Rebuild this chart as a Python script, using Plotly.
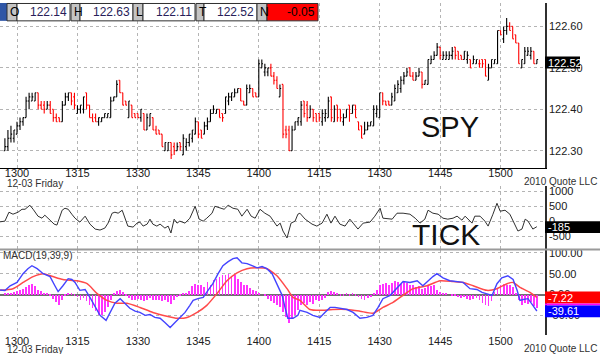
import plotly.graph_objects as go

# ---------------- DATA ----------------
BASE = 122.00            # SPY price base; bar arrays hold cents above it
BAR_START = -3.0         # minutes from 13:00 of first bar
BAR_LEN = 0.75           # minutes per bar

open_c = [30,31,33,33,34,36,37,38,42,42,42,44,41,41,40,41,40,38,38,37,
          41,43,44,43,39,40,40,44,41,38,38,37,37,38,38,38,42,43,47,44,
          42,38,41,39,39,38,39,35,36,38,35,35,34,30,30,32,31,30,32,29,
          31,32,33,34,37,35,34,36,37,39,39,40,39,39,42,43,43,44,45,42,
          41,44,45,44,43,50,49,49,50,48,47,43,46,35,35,30,35,37,37,42,
          41,38,40,39,39,37,38,38,43,37,41,40,37,38,41,39,41,37,36,34,
          35,36,36,39,38,44,42,42,41,42,44,45,47,48,50,48,47,48,49,46,
          46,51,52,53,55,52,52,52,53,55,54,53,52,52,52,51,51,51,52,52,
          47,50,51,51,59,57,59,60,60,58,56,50,51,53,53,54,51]
high_c = [33,35,36,35,37,38,38,43,44,44,44,44,42,42,42,42,40,39,38,42,
          44,44,44,44,41,41,43,44,41,39,39,38,38,39,39,43,43,47,47,44,
          42,42,41,39,39,40,39,39,39,38,36,35,34,32,32,32,32,32,32,34,
          33,34,35,38,37,35,37,38,40,41,40,40,39,43,44,44,45,45,45,42,
          46,46,45,44,52,52,51,50,51,49,48,46,46,36,36,36,37,38,42,42,
          42,41,40,39,39,40,40,43,43,41,41,40,39,40,41,41,41,37,36,37,
          37,37,41,41,44,44,42,42,44,46,47,48,49,50,50,49,49,50,49,47,
          52,53,54,56,55,54,54,54,55,55,54,53,54,54,52,53,52,52,52,52,
          51,52,52,59,59,60,62,61,60,58,56,52,55,55,55,54,52]
low_c  = [30,30,32,32,34,35,36,38,40,42,42,40,40,39,40,39,37,37,37,37,
          41,42,41,40,39,39,39,40,38,37,37,36,37,38,38,38,42,43,44,41,
          41,38,38,38,38,37,35,35,36,35,34,34,31,30,30,28,29,30,30,29,
          30,31,32,34,33,33,34,35,37,39,39,38,37,39,41,42,43,44,42,41,
          41,44,43,43,43,50,48,48,48,46,45,43,33,33,30,30,35,36,36,38,
          37,38,37,37,37,36,37,38,37,37,37,37,36,38,37,39,38,35,33,34,
          35,36,36,38,38,41,41,41,41,42,44,44,46,48,48,47,47,48,45,46,
          46,51,52,53,52,52,52,52,52,52,52,52,52,51,50,51,51,50,50,48,
          47,50,51,51,58,56,58,59,57,56,51,50,51,53,52,51,51]
close_c = [31,33,34,35,36,37,38,42,43,43,44,41,40,40,41,39,38,37,37,41,
           43,44,42,41,40,41,43,41,38,37,37,38,38,39,39,42,43,46,44,41,
           41,42,38,38,38,40,35,38,39,35,34,34,31,32,32,29,30,31,31,33,
           32,34,35,37,34,33,36,37,39,40,40,38,38,43,43,44,44,45,42,41,
           45,45,43,43,51,51,50,50,48,47,45,45,34,34,30,35,37,38,41,39,
           38,40,38,37,38,39,39,42,38,40,38,38,38,40,39,41,38,35,33,35,
           36,37,40,40,44,42,41,41,43,45,46,47,48,49,48,47,48,49,46,47,
           52,52,53,55,53,53,53,53,54,53,52,52,54,53,50,52,52,51,51,48,
           50,52,52,59,58,59,60,59,57,56,51,52,54,54,54,51,52]

# NYSE TICK (minutes from 13:00, value)
tick_t = [-4.2,-3.0,-2.0,-1.0,0.25,1.24,2.0,3.2,4.0,5.2,6.2,6.9,8.2,9.2,9.9,11.2,11.9,12.7,
          13.6,14.4,15.6,16.9,18.1,19.4,20.6,21.8,22.6,23.6,24.3,25.1,26.1,26.8,27.5,28.8,
          29.8,30.5,31.3,32.3,33.0,33.7,34.7,35.5,36.7,37.5,38.2,39.0,39.7,40.4,41.7,42.9,
          44.2,45.2,46.2,47.1,48.4,49.1,50.4,51.4,52.4,53.6,54.8,55.8,57.1,58.1,59.1,60.3,
          61.5,62.8,64.5,65.3,66.0,67.0,68.0,69.0,69.7,70.2,71.5,73.2,74.4,75.7,76.9,77.9,
          78.9,80.1,81.4,82.6,83.4,84.6,85.9,87.6,88.8,90.1,90.8,92.1,93.1,94.3,95.8,97.5,
          98.8,100.0,101.2,102.0,103.2,104.5,105.7,106.9,108.2,109.2,110.4,111.2,111.9,
          112.9,113.6,114.9,116.1,116.9,118.1,119.1,119.9,121.1,122.3,123.1,124.3,125.3,
          126.1,126.8,128.0,129.0]
tick_v = [-23,0,298,232,298,397,397,530,397,166,99,199,33,-99,-132,364,430,397,
          232,99,-33,166,-99,-265,-298,-232,-66,265,298,265,364,66,-166,-199,
          -66,-33,-166,-99,66,-99,-166,-99,-232,-166,-397,66,-66,0,-66,99,
          497,66,0,99,265,497,430,397,530,430,397,166,397,166,99,397,
          265,166,-166,-66,-331,-563,-66,0,232,265,66,-99,-166,-66,232,-66,
          166,-99,-166,66,-66,-265,-66,-33,166,430,99,66,66,265,265,232,
          99,-66,66,364,265,232,99,66,99,166,33,166,66,
          -66,166,166,0,-166,232,596,331,364,232,0,-331,-265,
          66,0,-265,-185]

# MACD(19,39,9): MACD line, signal line, histogram (one per bar)
macd_t = [-4.2,-3.0,-1.7,0.0,1.5,2.7,3.7,5.0,6.5,8.2,9.4,10.2,11.4,12.7,13.6,14.4,15.6,
          16.9,18.1,19.4,20.6,22.1,23.1,24.3,25.6,26.8,28.0,29.3,30.5,31.8,33.0,34.2,35.5,
          36.7,38.0,39.2,40.4,41.7,42.9,43.7,44.9,46.2,47.4,48.6,49.9,51.1,52.4,53.6,54.6,
          55.8,57.1,58.3,59.6,60.8,62.0,63.3,64.5,65.8,66.5,67.2,68.5,69.7,70.2,72.0,73.4,
          75.2,76.4,77.7,78.9,80.1,81.9,83.4,85.1,86.8,88.3,89.6,90.8,92.6,94.3,95.8,97.5,
          99.3,100.7,102.0,103.2,104.2,105.7,107.4,109.2,110.7,112.4,114.1,115.4,116.6,
          117.9,119.1,120.3,121.8,123.1,124.1,124.8,125.6,126.8,128.0,129.0]
macd_v = [11,9.5,21,29,50,62,69,62,50,43,21,7,21,38,36,29,10,
          12,-7,-31,-50,-62,-43,-21,-10,-21,-33,-40,-43,-50,-48,-55,-57,
          -67,-79,-67,-55,-43,-26,-14,-10,-7,10,26,50,69,79,86,88,
          76,74,69,64,67,62,50,26,-2,-31,-57,-57,-50,-38,-43,-50,
          -55,-43,-31,-31,-33,-36,-43,-57,-55,-50,-31,-10,-2,17,31,29,
          33,21,33,43,50,40,33,31,29,14,12,5,2,
          -2,26,40,45,36,10,-14,-12,-10,-26,-39.61]
sig_t = [-4.2,-1.0,1.5,4.0,6.5,8.9,11.4,14.9,17.4,19.9,22.3,24.8,27.3,30.5,33.7,37.2,39.7,
         42.2,44.7,47.1,49.6,52.1,54.6,57.1,59.6,62.0,64.5,67.0,68.5,70.2,72.7,75.2,78.4,
         81.9,85.1,88.3,90.8,93.3,95.8,98.3,101.7,105.0,108.2,110.7,113.2,116.6,119.1,
         121.6,123.1,124.8,127.3,129.0]
sig_v = [10,14,29,43,50,43,36,33,26,2,-14,-21,-21,-31,-43,-52,-57,
         -55,-43,-26,2,33,52,62,64,62,45,14,-7,-14,-36,-38,-36,
         -36,-40,-45,-31,-19,-2,14,21,33,31,29,21,10,14,
         26,29,17,5,-7.22]
hist_v = [2,3,5,6,8,10,14,18,22,26,20,12,8,5,2,-4,-10,-18,-24,-14,
          -3,3,4,-2,-6,-12,-8,-16,-24,-32,-40,-48,-50,-42,-30,-14,2,8,10,6,
          -4,-8,-12,-14,-10,-12,-16,-12,-8,-12,-14,-12,-16,-14,-18,-22,-12,-6,-3,2,
          4,8,20,26,22,24,18,30,24,34,38,42,46,48,50,44,46,38,30,22,
          22,16,12,8,2,0,-4,-10,-16,-20,-26,-30,-42,-54,-68,-58,-48,-36,-26,-20,
          -24,-18,-22,-14,-16,-12,-8,6,8,6,2,-4,-2,3,-3,2,-4,-6,-10,-12,
          -8,-6,4,12,22,26,28,24,28,32,30,26,30,28,22,24,18,20,14,16,
          22,20,24,12,6,4,2,0,-4,-2,-6,-8,-6,-10,-12,-10,-8,-14,-20,-24,
          -28,-16,6,16,22,26,24,22,18,4,-12,-24,-20,-22,-18,-28,-32]

x_tickvals = [0, 15, 30, 45, 60, 75, 90, 105, 120]
x_ticktext = ["1300", "1315", "1330", "1345", "1400", "1415", "1430", "1445", "1500"]
price_ticks = [122.30, 122.40, 122.50, 122.60]
tick_ticks = [-500, 0, 500, 1000]
macd_ticks = [-50, 0, 50, 100]

header = [("O", "122.14"), ("H", "122.63"), ("L", "122.11"), ("T", "122.52")]
net_change = "-0.05"
last_price = "122.52"
last_tick = "-185"
last_signal = "-7.22"
last_macd = "-39.61"

# ---------------- FIGURE ----------------
W, H = 600, 354
PW = 545  # plot width (px)
FONT = "Liberation Sans, Arial, sans-serif"

def px(x):
    return x / PW

def py(y):
    return 1 - y / H

n = len(open_c)
t = [BAR_START + BAR_LEN * i for i in range(n)]
O = [BASE + v / 100 for v in open_c]
Hh = [BASE + v / 100 for v in high_c]
L = [BASE + v / 100 for v in low_c]
C = [BASE + v / 100 for v in close_c]

fig = go.Figure()
fig.add_trace(go.Ohlc(x=t, open=O, high=Hh, low=L, close=C, xaxis="x", yaxis="y",
                      increasing=dict(line=dict(color="#000000", width=1.1)),
                      decreasing=dict(line=dict(color="#ff0000", width=1.1)),
                      tickwidth=0.4, hoverinfo="skip", showlegend=False))
fig.add_trace(go.Scatter(x=tick_t, y=tick_v, xaxis="x2", yaxis="y2", mode="lines",
                         line=dict(color="#303030", width=1), hoverinfo="skip", showlegend=False))
fig.add_trace(go.Bar(x=t, y=hist_v, xaxis="x3", yaxis="y3", width=0.2,
                     marker=dict(color="#ff33ff", line=dict(width=0)),
                     hoverinfo="skip", showlegend=False))
fig.add_trace(go.Scatter(x=sig_t, y=sig_v, xaxis="x3", yaxis="y3", mode="lines",
                         line=dict(color="#ff4a4a", width=1.5, shape="spline", smoothing=0.6),
                         hoverinfo="skip", showlegend=False))
fig.add_trace(go.Scatter(x=macd_t, y=macd_v, xaxis="x3", yaxis="y3", mode="lines",
                         line=dict(color="#4444ff", width=1.4),
                         hoverinfo="skip", showlegend=False))

grid = dict(showgrid=True, gridcolor="#b4b4b4", griddash="dot", gridwidth=1, zeroline=False)
xr = [-17 / 4.03, (PW - 17) / 4.03]
xcommon = dict(range=xr, tickvals=x_tickvals, ticktext=x_ticktext, ticks="",
               tickfont=dict(size=11, color="#202020", family=FONT), **grid)

fig.update_layout(
    width=W, height=H, margin=dict(l=0, r=W - PW, t=0, b=0),
    paper_bgcolor="white", plot_bgcolor="white", bargap=0,
    font=dict(family=FONT, size=11, color="#202020"),
    xaxis=dict(domain=[0, 1], anchor="y", showline=True, linecolor="#000", linewidth=1,
               rangeslider=dict(visible=False), showticklabels=True, ticklabelstandoff=-5, **xcommon),
    xaxis2=dict(domain=[0, 1], anchor="y2", matches="x", showticklabels=False, showline=False, **xcommon),
    xaxis3=dict(domain=[0, 1], anchor="y3", matches="x", showticklabels=True, showline=False,
                ticklabelstandoff=-2, **xcommon),
    yaxis=dict(domain=[py(166), 1], side="right", range=[122.30 - 17 / 418, 122.30 + 149 / 418],
               tickvals=price_ticks, ticktext=["%.2f" % v for v in price_ticks], ticks="",
               showline=True, linecolor="#303030", linewidth=1.5, **grid),
    yaxis2=dict(domain=[py(248), py(185)], side="right", range=[(220 - 248) / 0.0302, (220 - 185) / 0.0302],
                tickvals=tick_ticks, ticktext=[str(v) for v in tick_ticks], ticks="",
                showline=True, linecolor="#303030", linewidth=1.5, **grid),
    yaxis3=dict(domain=[py(335), py(249)], side="right", range=[(294 - 335) * 2.38, (294 - 249) * 2.38],
                tickvals=macd_ticks, ticktext=["%.2f" % v for v in macd_ticks], ticks="",
                showline=True, linecolor="#303030", linewidth=1.5,
                showgrid=True, gridcolor="#b4b4b4", griddash="dot", gridwidth=1,
                zeroline=True, zerolinecolor="#707070", zerolinewidth=2),
)

shapes = []
annos = []

def rect(x0, x1, y0, y1, fill, line=None):
    shapes.append(dict(type="rect", xref="paper", yref="paper", x0=px(x0), x1=px(x1),
                       y0=py(y1), y1=py(y0), fillcolor=fill, layer="above",
                       line=dict(width=1 if line else 0, color=line or fill)))

def text(x, y, s, size=11, color="#202020", xanchor="left"):
    annos.append(dict(xref="paper", yref="paper", x=px(x), y=py(y), text=s, showarrow=False,
                      xanchor=xanchor, yanchor="middle", font=dict(size=size, color=color, family=FONT),
                      borderpad=0))

# panel separator between TICK and MACD
shapes.append(dict(type="line", xref="paper", yref="paper", x0=0, x1=W / PW, y0=py(248.5), y1=py(248.5),
                   line=dict(color="#9a9a9a", width=2), layer="above"))

# header
rect(0, 7, 0, 18, "#2f56a6")
cells = [(7, 17, 70), (71, 80, 133), (133, 143, 195), (196, 204, 257)]
for (lab, val), (a, b, c) in zip(header, cells):
    rect(a, b, 0.5, 18, "#c4c4c4", "#303030")
    rect(b, c, 0.5, 18, "#ffffff", "#303030")
    text(a + 1.5, 9.5, lab, size=12, color="#000")
    text(c - 2, 9.5, val, size=12, color="#281e5a", xanchor="right")
rect(257, 267, 0.5, 18, "#c4c4c4", "#303030")
text(258.5, 9.5, "N", size=12, color="#000")
rect(267, 318, 0.5, 18, "#ff0000", "#303030")
text(316, 9.5, net_change, size=12, color="#000", xanchor="right")

# last-value boxes
rect(545, 580, 54, 66, "#000000")
text(547, 60.5, last_price, size=11, color="#ffffff")
rect(545, 600, 220, 232, "#000000")
text(547, 226, last_tick, size=11, color="#ffffff")
rect(545, 600, 291, 303, "#ff0000")
rect(545, 600, 303, 305, "#ff00ff")
rect(545, 600, 305, 317, "#0000ff")
text(547, 297.5, last_signal, size=11, color="#ffffff")
text(547, 311, last_macd, size=11, color="#ffffff")

# labels
text(420, 125, "SPY", size=29, color="#111111")
text(411, 233, "TICK", size=30, color="#111111")
text(6, 182.5, "12-03 Friday", size=10, color="#303030")
text(6, 349.5, "12-03 Friday", size=10, color="#303030")
text(2, 255, "MACD(19,39,9)", size=10, color="#303030")
text(598, 180, "2010 Quote LLC", size=10, color="#303030", xanchor="right")
text(598, 348, "2010 Quote LLC", size=10, color="#303030", xanchor="right")

fig.update_layout(shapes=shapes, annotations=annos)
fig.write_html("out.html")
